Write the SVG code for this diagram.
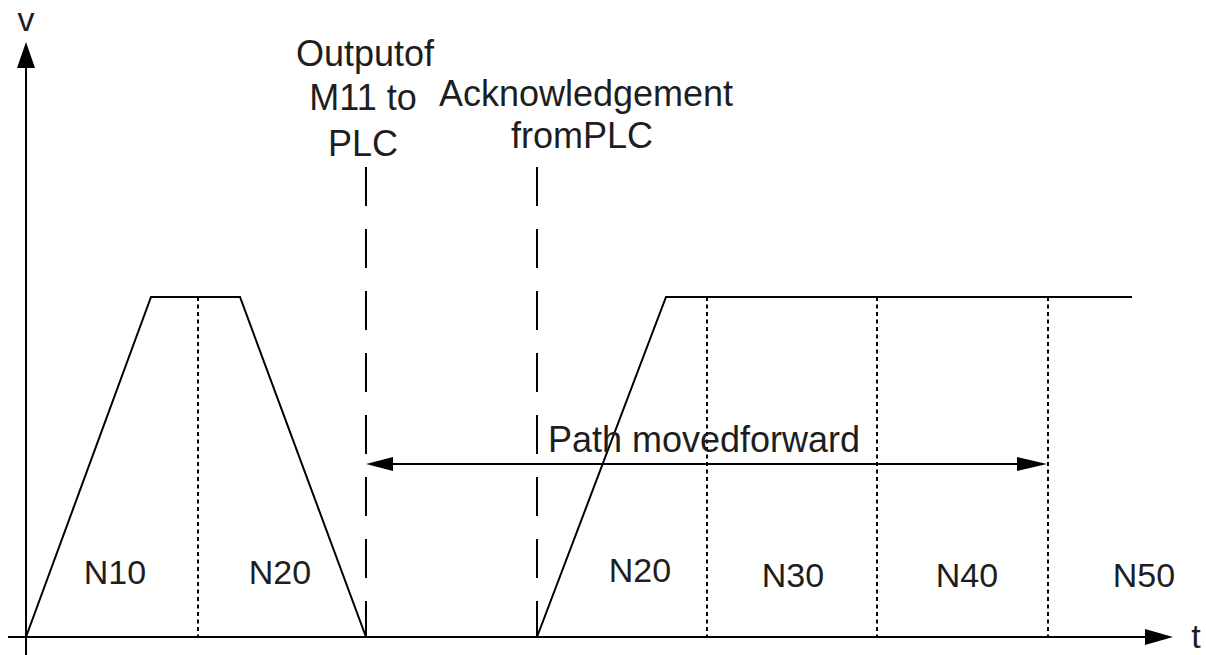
<svg xmlns="http://www.w3.org/2000/svg" width="1206" height="655" viewBox="0 0 1206 655">
<style>
.ax{stroke:#000;stroke-width:2;fill:none}
.ln{stroke:#000;stroke-width:2;fill:none}
.dash{stroke:#000;stroke-width:2;fill:none;stroke-dasharray:39 23}
.dot{stroke:#000;stroke-width:2;fill:none;stroke-dasharray:4 3.5}
.ah{fill:#000;stroke:none}
text{font-family:"Liberation Sans",Arial,sans-serif;fill:#1e1e1e}
.lb{font-size:34px;text-anchor:middle}
.tl{font-size:36px;text-anchor:middle}
</style>
<rect width="1206" height="655" fill="#fff"/>
<g id="axes">
<line class="ax" x1="26" y1="60" x2="26" y2="655"/>
<polygon class="ah" points="26,42 35,68 17,68"/>
<line class="ax" x1="8" y1="637" x2="1150" y2="637"/>
<polygon class="ah" points="1173,637 1145,629 1145,645"/>
<text class="lb" x="26" y="31">v</text>
<text class="lb" x="1196" y="648">t</text>
</g>
<g id="profile1">
<polyline class="ln" points="26,637 151,297 240,297 366,637"/>
<line class="dot" x1="198" y1="297" x2="198" y2="637"/>
<text class="lb" x="115" y="584">N10</text>
<text class="lb" x="280" y="584">N20</text>
</g>
<g id="profile2">
<polyline class="ln" points="537,637 666,297 1132,297"/>
<line class="dot" x1="707" y1="297" x2="707" y2="637"/>
<line class="dot" x1="877" y1="297" x2="877" y2="637"/>
<line class="dot" x1="1048" y1="297" x2="1048" y2="637"/>
<text class="lb" x="640" y="582">N20</text>
<text class="lb" x="793" y="587">N30</text>
<text class="lb" x="967" y="587">N40</text>
<text class="lb" x="1144" y="587">N50</text>
</g>
<g id="marker-output">
<line class="dash" x1="366" y1="167" x2="366" y2="637"/>
<text class="tl" x="365" y="66">Outputof</text>
<text class="tl" x="363" y="110">M11 to</text>
<text class="tl" x="363" y="156">PLC</text>
</g>
<g id="marker-ack">
<line class="dash" x1="537" y1="167" x2="537" y2="637"/>
<text class="tl" x="586" y="106">Acknowledgement</text>
<text class="tl" x="582" y="148">fromPLC</text>
</g>
<g id="connectors">
<line class="ln" x1="380" y1="464" x2="1030" y2="464"/>
<polygon class="ah" points="366,464 393,457 393,471"/>
<polygon class="ah" points="1047,464 1017,457 1017,471"/>
<text class="tl" x="704" y="452">Path movedforward</text>
</g>
</svg>
